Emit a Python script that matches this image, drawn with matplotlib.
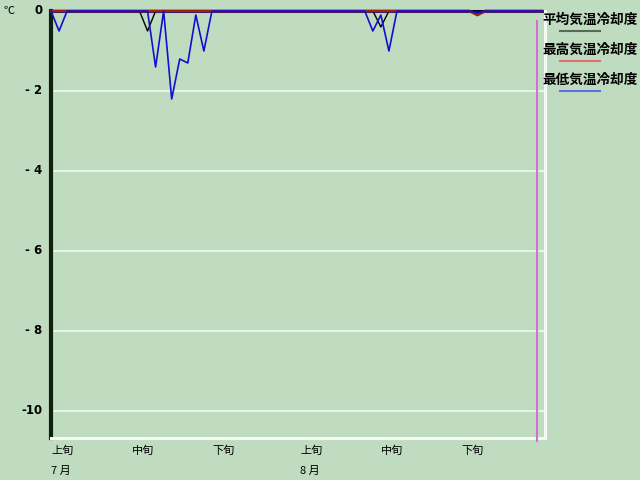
import numpy as np
import matplotlib.pyplot as plt
from matplotlib.lines import Line2D

plt.rcParams['font.family'] = ['Noto Sans CJK JP', 'DejaVu Sans']

# days 7/1 .. 8/31 (index 0..61)
days = np.arange(62)
avg_cool = np.zeros(62)
avg_cool[12] = -0.5
avg_cool[41] = -0.4
max_cool = np.zeros(62)
max_cool[53] = -0.1
min_cool = np.zeros(62)
min_cool[1] = -0.5
min_cool[13] = -1.4
min_cool[15] = -2.2
min_cool[16] = -1.2
min_cool[17] = -1.3
min_cool[18] = -0.1
min_cool[19] = -1.0
min_cool[40] = -0.5
min_cool[41] = -0.1
min_cool[42] = -1.0
min_cool[53] = -0.05

series_names = ['平均気温冷却度', '最高気温冷却度', '最低気温冷却度']
tick_pos = [0, 10, 20, 31, 41, 51]
tick_lab = ['上旬', '中旬', '下旬', '上旬', '中旬', '下旬']
months = [(0, '7 月'), (31, '8 月')]
yticks = [0, -2, -4, -6, -8, -10]
ylabels = ['0', '- 2', '- 4', '- 6', '- 8', '-10']
today = 60.4

bg = '#C0DCC0'
fig = plt.figure(figsize=(6.4, 4.8), dpi=100, facecolor=bg)
W, H = 640, 480
ax = fig.add_axes([51 / W, 1 - 438 / H, (545 - 51) / W, (438 - 11) / H])
ax.set_facecolor(bg)
ax.set_xlim(0, 61.4)
ax.set_ylim(-10.675, 0)

for v in yticks[1:]:
    ax.axhline(v, color='#E6F2E6', lw=1.5, zorder=1)

ax.axhline(0, color='#101890', lw=2.2, zorder=2, clip_on=False)
ax.plot(days, avg_cool, color='black', lw=1, zorder=3, clip_on=False)
ax.plot(days, max_cool, color='#A02010', lw=2.0, zorder=4, clip_on=False)
ax.plot(days, min_cool, color='#1010D0', lw=1.2, zorder=5, clip_on=False)
ax.plot([today, today], [-10.75, -0.25], color='#D070D0', lw=1.5, zorder=6, clip_on=False)

ax.spines['top'].set_visible(False)
ax.spines['left'].set_color('#102010')
ax.spines['left'].set_linewidth(3)
ax.spines['bottom'].set_color('#F4FAF4')
ax.spines['bottom'].set_linewidth(2.2)
ax.spines['right'].set_color('#F4FAF4')
ax.spines['right'].set_linewidth(2.2)

ax.set_xticks([])
ax.set_yticks([])

for v, lab in zip(yticks, ylabels):
    ax.text(-1.1, v, lab, ha='right', va='center', fontsize=8.5, fontweight='bold',
            family=['DejaVu Sans'])
fig.text(4 / W, 1 - 11 / H, '℃', ha='left', va='center', fontsize=8)

for p, lab in zip(tick_pos, tick_lab):
    ax.text(p, -10.675 - 0.2, lab, ha='left', va='top', fontsize=8)
for p, lab in months:
    ax.text(p, -10.675 - 0.7, lab, ha='left', va='top', fontsize=8)

leg_cols = ['#5A6A5A', '#E07070', '#6070E0']
for i, (name, c) in enumerate(zip(series_names, leg_cols)):
    y = 20 + 30 * i
    fig.text(542 / W, 1 - y / H, name, ha='left', va='center', fontsize=9.8,
             fontweight='bold')
    fig.add_artist(Line2D([560 / W, 600 / W], [1 - (y + 11) / H] * 2, color=c, lw=1.5))

fig.savefig('out.png', dpi=100, facecolor=bg)
